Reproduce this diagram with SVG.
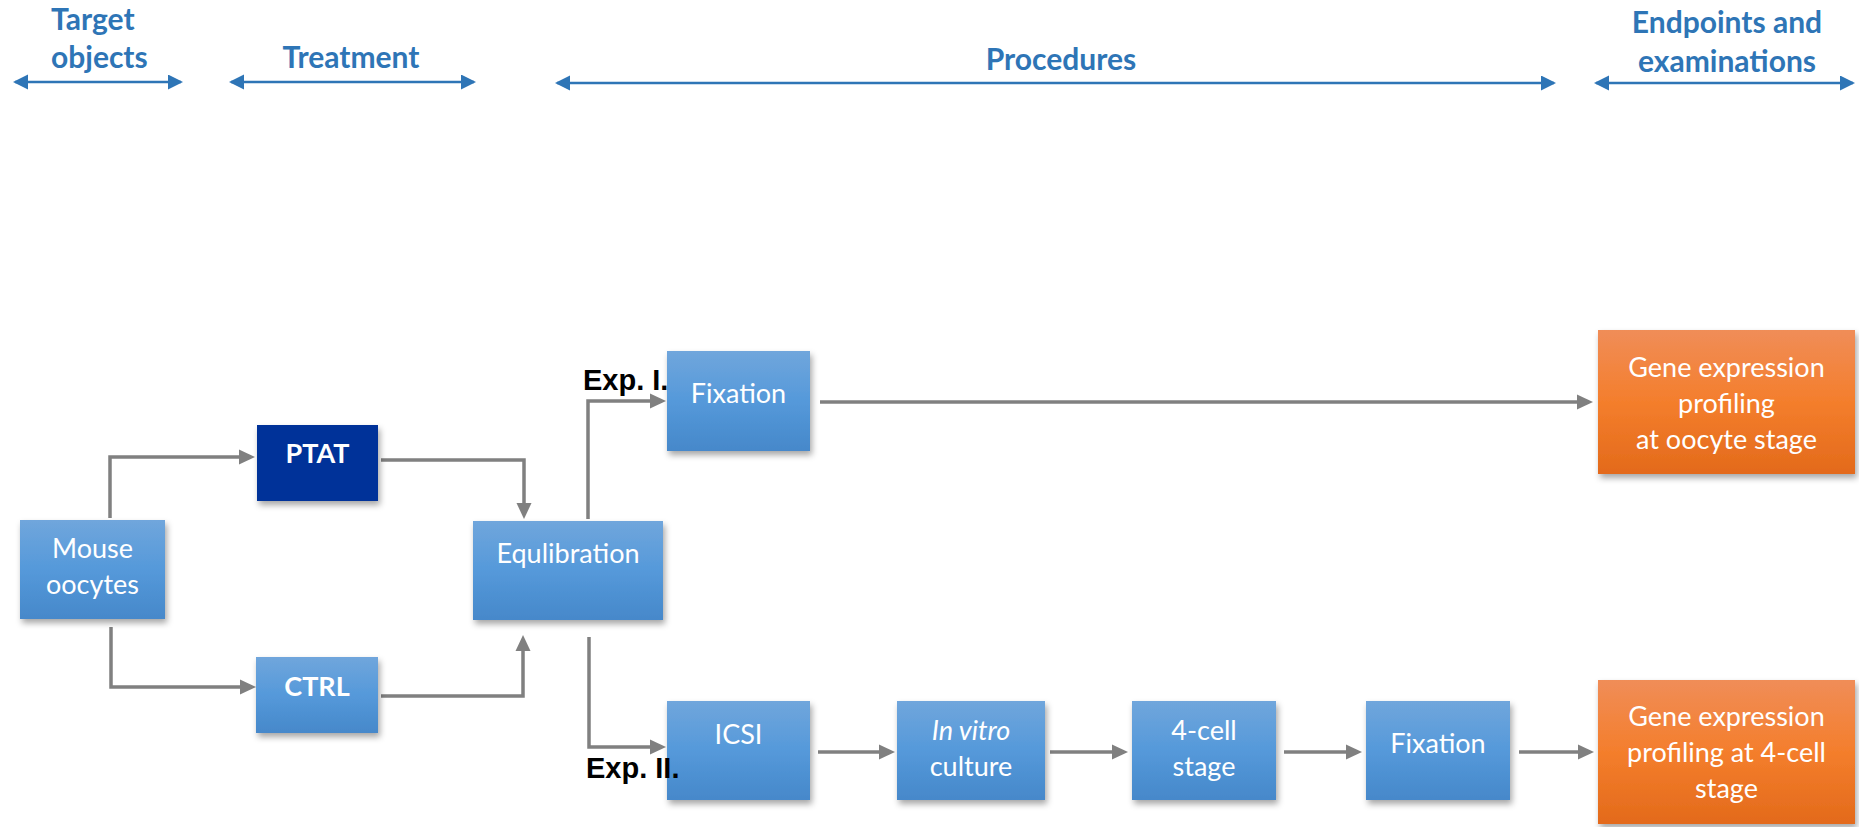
<svg xmlns="http://www.w3.org/2000/svg" width="1859" height="827" viewBox="0 0 1859 827">
<style>
.hdr{font-family:Lato,"Open Sans",sans-serif;font-weight:bold;font-size:30px;fill:#2E75B6}
.hline{stroke:#2E75B6;stroke-width:2.5;fill:none}
.box{fill:url(#gBlue);filter:url(#sh)}
.obox{fill:url(#gOrange);filter:url(#sh)}
.dbox{fill:#003399;filter:url(#sh)}
.t{font-family:Lato,"Open Sans",sans-serif;font-size:27px;fill:#FFFFFF;text-anchor:middle}
.tb{font-weight:bold}
.conn{stroke:#808080;stroke-width:3.5;fill:none;marker-end:url(#ga)}
.exp{font-family:"Liberation Sans",Arial,sans-serif;font-weight:bold;font-size:29px;fill:#000000}
</style>
<defs>
<linearGradient id="gBlue" x1="0" y1="0" x2="0" y2="1">
<stop offset="0" stop-color="#70A6DC"/>
<stop offset="0.5" stop-color="#5599DA"/>
<stop offset="1" stop-color="#4688CA"/>
</linearGradient>
<linearGradient id="gOrange" x1="0" y1="0" x2="0" y2="1">
<stop offset="0" stop-color="#F08D58"/>
<stop offset="0.5" stop-color="#F47E2C"/>
<stop offset="1" stop-color="#E36A1B"/>
</linearGradient>
<filter id="sh" x="-10%" y="-10%" width="125%" height="130%">
<feDropShadow dx="2" dy="4" stdDeviation="3" flood-color="#000000" flood-opacity="0.35"/>
</filter>
<marker id="ga" markerUnits="userSpaceOnUse" markerWidth="16" markerHeight="16" refX="12" refY="8" orient="auto">
<path d="M0,0.5 L16,8 L0,15.5 z" fill="#808080"/>
</marker>
<marker id="ba" markerUnits="userSpaceOnUse" markerWidth="16" markerHeight="16" refX="13" refY="7.5" orient="auto-start-reverse">
<path d="M0,0 L15,7.5 L0,15 z" fill="#2E75B6"/>
</marker>
</defs>

<g id="headers">
<text class="hdr" x="51" y="30">Target</text>
<text class="hdr" x="51" y="68">objects</text>
<path class="hline" d="M15,82 H181" marker-start="url(#ba)" marker-end="url(#ba)"/>
<text class="hdr" x="351" y="68" text-anchor="middle">Treatment</text>
<path class="hline" d="M231,82 H474" marker-start="url(#ba)" marker-end="url(#ba)"/>
<text class="hdr" x="1061" y="70" text-anchor="middle">Procedures</text>
<path class="hline" d="M557,83 H1554" marker-start="url(#ba)" marker-end="url(#ba)"/>
<text class="hdr" x="1727" y="33" text-anchor="middle">Endpoints and</text>
<text class="hdr" x="1727" y="72" text-anchor="middle">examinations</text>
<path class="hline" d="M1596,83 H1853" marker-start="url(#ba)" marker-end="url(#ba)"/>
</g>

<g id="connectors">
<path class="conn" d="M110,518 V457 H251"/>
<path class="conn" d="M111,627 V687 H252"/>
<path class="conn" d="M381,460 H524 V515"/>
<path class="conn" d="M381,696 H523 V639"/>
<path class="conn" d="M588,519 V401 H662"/>
<path class="conn" d="M589,637 V747 H662"/>
<path class="conn" d="M820,402 H1589"/>
<path class="conn" d="M818,752 H891"/>
<path class="conn" d="M1050,752 H1124"/>
<path class="conn" d="M1284,752 H1358"/>
<path class="conn" d="M1519,752 H1590"/>
</g>

<g id="mouse">
<rect class="box" x="20" y="520" width="145" height="99"/>
<text class="t" x="92.5" y="558">Mouse</text>
<text class="t" x="92.5" y="594">oocytes</text>
</g>
<g id="ptat">
<rect class="dbox" x="257" y="425" width="121" height="76"/>
<text class="t tb" x="317.5" y="463">PTAT</text>
</g>
<g id="ctrl">
<rect class="box" x="256" y="657" width="122" height="76"/>
<text class="t tb" x="317" y="696">CTRL</text>
</g>
<g id="equlibration">
<rect class="box" x="473" y="521" width="190" height="99"/>
<text class="t" x="568" y="563">Equlibration</text>
</g>
<g id="fixation1">
<rect class="box" x="667" y="351" width="143" height="100"/>
<text class="t" x="738.5" y="403">Fixation</text>
</g>
<g id="gene1">
<rect class="obox" x="1598" y="330" width="257" height="144"/>
<text class="t" x="1726.5" y="377">Gene expression</text>
<text class="t" x="1726.5" y="413">profiling</text>
<text class="t" x="1726.5" y="449">at oocyte stage</text>
</g>
<g id="icsi">
<rect class="box" x="667" y="701" width="143" height="99"/>
<text class="t" x="738.5" y="744">ICSI</text>
</g>
<g id="invitro">
<rect class="box" x="897" y="701" width="148" height="99"/>
<text class="t" x="971" y="740" font-style="italic">In vitro</text>
<text class="t" x="971" y="776">culture</text>
</g>
<g id="cell4">
<rect class="box" x="1132" y="701" width="144" height="99"/>
<text class="t" x="1204" y="740">4-cell</text>
<text class="t" x="1204" y="776">stage</text>
</g>
<g id="fixation2">
<rect class="box" x="1366" y="701" width="144" height="99"/>
<text class="t" x="1438" y="753">Fixation</text>
</g>
<g id="gene2">
<rect class="obox" x="1598" y="680" width="257" height="144"/>
<text class="t" x="1726.5" y="726">Gene expression</text>
<text class="t" x="1726.5" y="762">profiling at 4-cell</text>
<text class="t" x="1726.5" y="798">stage</text>
</g>

<g id="labels">
<text class="exp" x="583" y="390">Exp. I.</text>
<text class="exp" x="586" y="778">Exp. II.</text>
</g>
</svg>
